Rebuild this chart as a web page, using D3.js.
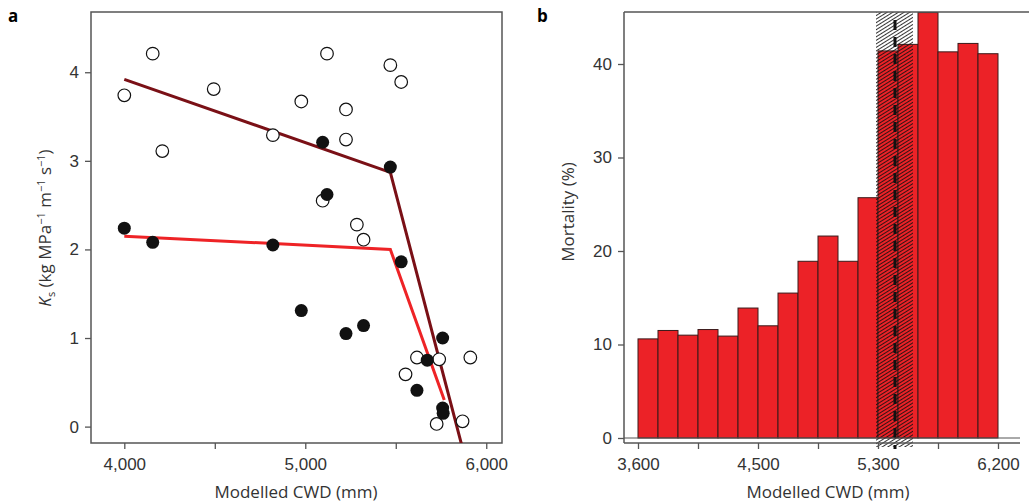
<!DOCTYPE html>
<html><head><meta charset="utf-8">
<script src="https://cdnjs.cloudflare.com/ajax/libs/d3/7.8.5/d3.min.js"></script>
<style>body{margin:0;background:#fff}svg{font-family:"Open Sans",sans-serif}</style>
</head><body><svg id="c" width="1029" height="504"></svg>
<script>
const openX=[4000,4157,4210,4494,4821,4978,5096,5120,5225,5225,5285,5322,5470,5530,5554,5617,5740,5726,5869,5912];
const openY=[3.74,4.21,3.11,3.81,3.29,3.67,2.55,4.21,3.58,3.24,2.28,2.11,4.08,3.89,0.59,0.78,0.76,0.03,0.06,0.78];
const fillX=[4000,4157,4821,4978,5096,5120,5225,5322,5470,5530,5617,5674,5759,5759,5762];
const fillY=[2.24,2.08,2.05,1.31,3.21,2.62,1.05,1.14,2.93,1.86,0.41,0.75,1.00,0.21,0.15];
const darkLineX=[4000,5470,5862], darkLineY=[3.92,2.87,-0.19];
const redLineX=[4000,5470,5768], redLineY=[2.15,2.0,0.30];
const aXTicks=[4000,5000,6000], aXMinor=[4500,5500], aYTicks=[0,1,2,3,4];
const mortality=[10.6,11.5,11.0,11.6,10.9,13.9,12.0,15.5,18.9,21.6,18.9,25.7,41.4,42.1,45.5,41.3,42.2,41.1];
const bXLabels=["3,600","4,500","5,300","6,200"];
const bYTicks=[0,10,20,30,40];
const thresholdBin=12.85, hatchBins=[11.9,13.75];

const svg=d3.select("#c");
const ax="#555", tc="#333", fs="17px";
// Panel a
const xa=d3.scaleLinear().domain([3816,6087]).range([91,502]);
const ya=d3.scaleLinear().domain([-0.185,4.68]).range([443,12]);
const ga=svg.append("g");
ga.append("defs").append("clipPath").attr("id","ca").append("rect").attr("x",91).attr("y",12).attr("width",411).attr("height",431);
ga.append("rect").attr("x",91).attr("y",12).attr("width",411).attr("height",431).attr("fill","none").attr("stroke",ax).attr("stroke-width",1.5);
ga.append("g").attr("transform","translate(0,443)").call(d3.axisBottom(xa).tickValues(aXTicks).tickFormat(d3.format(",")).tickSize(6).tickPadding(9).tickSizeOuter(0));
ga.append("g").attr("transform","translate(0,443)").call(d3.axisBottom(xa).tickValues(aXMinor).tickFormat("").tickSize(6).tickSizeOuter(0));
ga.append("g").attr("transform","translate(91,0)").call(d3.axisLeft(ya).tickValues(aYTicks).tickFormat(d3.format("d")).tickSize(6).tickPadding(6).tickSizeOuter(0));
ga.selectAll(".domain").remove();
ga.selectAll(".tick line").attr("stroke",ax).attr("stroke-width",1.3);
ga.selectAll(".tick text").attr("fill",tc).style("font-size",fs);
const pa=ga.append("g").attr("clip-path","url(#ca)");
const ln=d3.line().x(d=>xa(d[0])).y(d=>ya(d[1]));
pa.append("path").attr("d",ln(darkLineX.map((x,i)=>[x,darkLineY[i]]))).attr("fill","none").attr("stroke","#7a1016").attr("stroke-width",3);
pa.append("path").attr("d",ln(redLineX.map((x,i)=>[x,redLineY[i]]))).attr("fill","none").attr("stroke","#ee2326").attr("stroke-width",3);
pa.selectAll(".o").data(openX).join("circle").attr("cx",d=>xa(d)).attr("cy",(d,i)=>ya(openY[i])).attr("r",6.3).attr("fill","#fff").attr("stroke","#111").attr("stroke-width",1.2);
pa.selectAll(".f").data(fillX).join("circle").attr("cx",d=>xa(d)).attr("cy",(d,i)=>ya(fillY[i])).attr("r",6.5).attr("fill","#111");
ga.append("text").attr("x",296).attr("y",498).attr("text-anchor","middle").attr("fill",tc).style("font-size",fs).text("Modelled CWD (mm)");
const yl=ga.append("text").attr("transform","translate(51,228) rotate(-90)").attr("text-anchor","middle").attr("fill",tc).style("font-size",fs);
yl.append("tspan").attr("font-style","italic").text("K");
yl.append("tspan").attr("dy",4).style("font-size","11px").text("s");
yl.append("tspan").attr("dy",-4).text(" (kg MPa");
yl.append("tspan").attr("dy",-6).style("font-size","11px").text("−1");
yl.append("tspan").attr("dy",6).text(" m");
yl.append("tspan").attr("dy",-6).style("font-size","11px").text("−1");
yl.append("tspan").attr("dy",6).text(" s");
yl.append("tspan").attr("dy",-6).style("font-size","11px").text("−1");
yl.append("tspan").attr("dy",6).text(")");
svg.append("text").attr("x",8).attr("y",22).attr("font-weight","bold").style("font-size","17px").text("a");
svg.append("text").attr("x",537).attr("y",22).attr("font-weight","bold").style("font-size","17px").text("b");

// Panel b
const xb=d3.scaleLinear().domain([0,18]).range([638,998]);
const yb=d3.scaleLinear().domain([0,40]).range([438,64]);
const gb=svg.append("g");
const defs=gb.append("defs");
defs.append("clipPath").attr("id","cb").append("rect").attr("x",624).attr("y",12).attr("width",405).attr("height",437);
const pat=defs.append("pattern").attr("id","hatch").attr("patternUnits","userSpaceOnUse").attr("width",3).attr("height",3).attr("patternTransform","rotate(-32)");
pat.append("line").attr("x1",0).attr("y1",0.5).attr("x2",3).attr("y2",0.5).attr("stroke","#111").attr("stroke-width",1);
const pb=gb.append("g").attr("clip-path","url(#cb)");
pb.selectAll("rect.bar").data(mortality).join("rect").attr("class","bar")
 .attr("x",(d,i)=>xb(i)).attr("width",xb(1)-xb(0)).attr("y",d=>yb(d)).attr("height",d=>yb(0)-yb(d))
 .attr("fill","#ec2227").attr("stroke","#3a1a1a").attr("stroke-width",1);
pb.append("rect").attr("x",xb(hatchBins[0])).attr("width",xb(hatchBins[1])-xb(hatchBins[0])).attr("y",12).attr("height",435).attr("fill","url(#hatch)").attr("opacity",0.85);
pb.append("line").attr("x1",xb(thresholdBin)).attr("x2",xb(thresholdBin)).attr("y1",20).attr("y2",449).attr("stroke","#111").attr("stroke-width",3).attr("stroke-dasharray","10,7");
gb.append("line").attr("x1",624).attr("x2",1029).attr("y1",12).attr("y2",12).attr("stroke",ax).attr("stroke-width",1.5);
gb.append("line").attr("x1",624).attr("x2",624).attr("y1",12).attr("y2",443).attr("stroke",ax).attr("stroke-width",1.5);
gb.append("line").attr("x1",624).attr("x2",1020).attr("y1",443).attr("y2",443).attr("stroke",ax).attr("stroke-width",1.5);
gb.append("line").attr("x1",624).attr("x2",1020).attr("y1",438).attr("y2",438).attr("stroke",ax).attr("stroke-width",1);
gb.append("g").attr("transform","translate(0,443)").call(d3.axisBottom(xb).tickValues([0,3,6,9,12,15,18]).tickFormat(d=>d%6===0?bXLabels[d/6]:"").tickSize(6).tickPadding(9).tickSizeOuter(0));
gb.append("g").attr("transform","translate(624,0)").call(d3.axisLeft(yb).tickValues(bYTicks).tickSize(6).tickPadding(6).tickSizeOuter(0));
gb.selectAll(".domain").remove();
gb.selectAll(".tick line").attr("stroke",ax).attr("stroke-width",1.3);
gb.selectAll(".tick text").attr("fill",tc).style("font-size",fs);
gb.append("text").attr("x",828).attr("y",498).attr("text-anchor","middle").attr("fill",tc).style("font-size",fs).text("Modelled CWD (mm)");
gb.append("text").attr("transform","translate(574,212) rotate(-90)").attr("text-anchor","middle").attr("fill",tc).style("font-size",fs).text("Mortality (%)");
</script></body></html>
